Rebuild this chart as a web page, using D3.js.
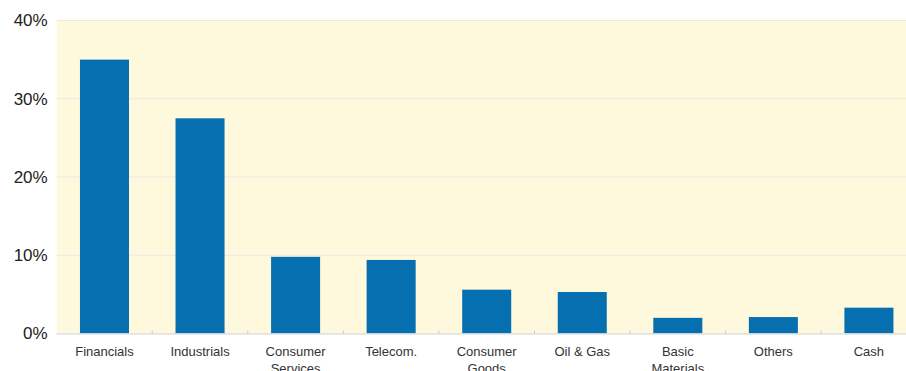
<!DOCTYPE html>
<html>
<head>
<meta charset="utf-8">
<script src="https://cdn.jsdelivr.net/npm/d3@7"></script>
<style>
  body { margin: 0; background: #fff; }
  svg { display: block; }
</style>
</head>
<body>
<div id="chart"></div>
<script>
var categories = ["Financials", "Industrials", "Consumer Services", "Telecom.", "Consumer Goods",
                  "Oil & Gas", "Basic Materials", "Others", "Cash"];
var weights = [35.0, 27.5, 9.8, 9.4, 5.6, 5.3, 2.0, 2.1, 3.3];
var yTicks = [0, 10, 20, 30, 40];

var W = 906, H = 371;
var margin = {top: 20.5, left: 56.7, bottom: 37.5};
var plotRight = 916.7; // plot runs a bit past the visible edge

var svg = d3.select("#chart").append("svg")
    .attr("width", W)
    .attr("height", H)
    .style("font-family", "Helvetica, Arial, 'Liberation Sans', sans-serif");

var x = d3.scaleBand()
    .domain(categories)
    .range([margin.left, plotRight])
    .paddingInner(0.487)
    .paddingOuter(0.2435);

var y = d3.scaleLinear()
    .domain([0, 40])
    .range([H - margin.bottom, margin.top]);

// background
svg.append("rect")
    .attr("x", margin.left)
    .attr("y", y(40))
    .attr("width", plotRight - margin.left)
    .attr("height", y(0) - y(40))
    .attr("fill", "#fef8dc");

// grid lines
svg.append("g").selectAll("line").data(yTicks)
    .enter().append("line")
    .attr("x1", margin.left)
    .attr("x2", plotRight)
    .attr("y1", d => y(d))
    .attr("y2", d => y(d))
    .attr("stroke", "#ebe8e0")
    .attr("stroke-width", 1.2);

// bars
svg.append("g").selectAll("rect").data(categories)
    .enter().append("rect")
    .attr("x", d => x(d))
    .attr("width", x.bandwidth())
    .attr("y", (d, i) => y(weights[i]))
    .attr("height", (d, i) => y(0) - y(weights[i]))
    .attr("fill", "#066fb0");

// y axis labels
var yAxis = d3.axisLeft(y)
    .tickValues(yTicks)
    .tickSize(0)
    .tickPadding(9)
    .tickFormat(d => d + "%");

svg.append("g")
    .attr("transform", "translate(" + margin.left + ",0)")
    .call(yAxis)
    .call(g => g.select(".domain").remove())
    .selectAll("text")
    .attr("font-size", 17)
    .attr("fill", "#222")
    .attr("font-family", "Helvetica, Arial, 'Liberation Sans', sans-serif");

// x axis baseline + small separator ticks
svg.append("line")
    .attr("x1", margin.left)
    .attr("x2", plotRight)
    .attr("y1", y(0) + 0.5)
    .attr("y2", y(0) + 0.5)
    .attr("stroke", "#e2e2e2")
    .attr("stroke-width", 1.5);

var step = x.step();
svg.append("g").selectAll("line").data(categories.slice(1))
    .enter().append("line")
    .attr("x1", d => x(d) - (step - x.bandwidth()) / 2)
    .attr("x2", d => x(d) - (step - x.bandwidth()) / 2)
    .attr("y1", y(0) - 3)
    .attr("y2", y(0))
    .attr("stroke", "#c8c8c8")
    .attr("stroke-width", 1);

// category labels, wrapped when wider than the label room
var maxLabel = 70;
var labels = svg.append("g").selectAll("text").data(categories)
    .enter().append("text")
    .attr("x", d => x(d) + x.bandwidth() / 2)
    .attr("y", y(0) + 22.5)
    .attr("text-anchor", "middle")
    .attr("font-size", 13)
    .attr("fill", "#333")
    .text(d => d);

labels.each(function(d) {
    var t = d3.select(this);
    if (this.getComputedTextLength() <= maxLabel) return;
    var words = d.split(" ");
    t.text(null);
    words.forEach(function(w, i) {
        t.append("tspan")
            .attr("x", t.attr("x"))
            .attr("dy", i == 0 ? 0 : 16.5)
            .text(w);
    });
});
</script>
</body>
</html>
